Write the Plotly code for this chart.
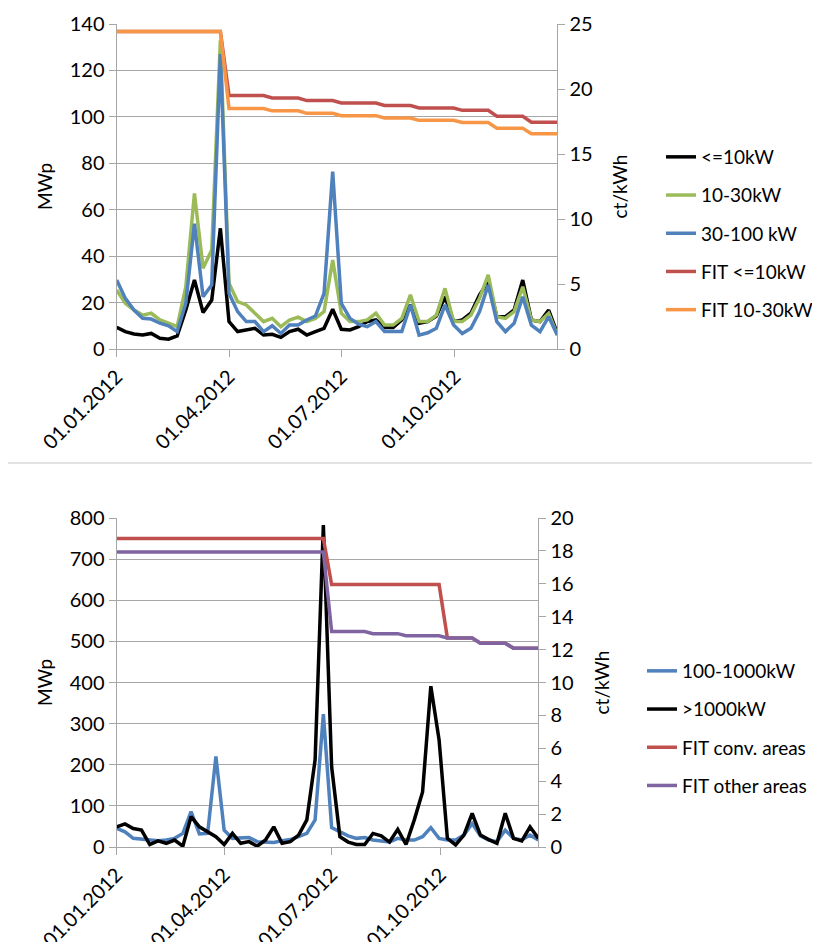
import pandas as pd
import plotly.graph_objects as go

# weekly dates (first day of each week in 2012)
weeks = pd.date_range("2012-01-01", periods=52, freq="7D")

# --- top chart: small plants (MWp per week) ---
mw_le10 = [9.3, 7.5, 6.5, 6.0, 6.7, 4.6, 4.2, 5.6, 16.8, 29.7,
           15.7, 21.1, 52.0, 11.8, 7.5, 8.2, 8.9, 6.0, 6.3, 5.0,
           7.5, 8.5, 6.0, 7.5, 8.9, 17.1, 8.5, 8.2, 9.6, 11.8,
           12.5, 9.3, 9.3, 12.5, 19.0, 11.1, 11.8, 14.2, 22.5, 11.8,
           12.5, 15.4, 23.3, 29.0, 13.9, 13.9, 16.8, 29.7, 12.5, 11.8,
           16.8, 6.7]
mw_10_30 = [25.4, 19.7, 16.8, 14.6, 15.4, 12.5, 11.1, 9.6, 26.8, 67.0,
            34.8, 42.7, 133.0, 28.3, 20.4, 19.0, 15.4, 11.8, 13.2, 9.6,
            12.5, 13.7, 11.8, 13.2, 16.1, 38.3, 15.4, 11.8, 11.8, 12.5,
            15.4, 10.3, 10.3, 13.2, 23.3, 11.8, 11.8, 14.6, 26.1, 11.8,
            11.8, 14.6, 21.8, 31.9, 13.9, 13.2, 16.1, 26.8, 12.5, 11.8,
            15.4, 6.0]
mw_30_100 = [29.7, 21.8, 16.8, 13.2, 12.9, 11.1, 10.0, 7.5, 19.7, 54.0,
             22.5, 27.6, 127.0, 24.0, 16.1, 11.8, 11.8, 7.5, 10.0, 6.7,
             10.3, 10.3, 12.5, 14.2, 24.0, 76.4, 19.7, 13.2, 10.7, 9.6,
             11.8, 7.5, 7.5, 7.5, 19.0, 6.0, 7.0, 8.9, 19.0, 10.3,
             6.7, 8.9, 16.1, 27.6, 11.8, 7.5, 11.1, 22.5, 10.3, 7.5,
             13.9, 6.0]

# feed-in tariffs (ct/kWh)
fit_le10 = [24.43] * 13 + [19.50] * 5 + [19.31] * 4 + [19.11] * 4 + [18.92] * 5 \
    + [18.73] * 4 + [18.54] * 5 + [18.36] * 4 + [17.90] * 4 + [17.45] * 4
fit_10_30 = [24.43] * 13 + [18.50] * 5 + [18.32] * 4 + [18.13] * 4 + [17.95] * 5 \
    + [17.77] * 4 + [17.59] * 5 + [17.42] * 4 + [16.98] * 4 + [16.56] * 4

# --- bottom chart: large plants ---
mw_100_1000 = [45, 37, 21, 19, 18, 15, 17, 21, 33, 86,
               32, 33, 220, 41, 21, 21, 23, 13, 13, 11,
               15, 18, 25, 33, 66, 323, 47, 37, 27, 21,
               23, 17, 15, 12, 21, 17, 17, 25, 47, 21,
               17, 17, 29, 57, 27, 17, 13, 41, 21, 17,
               29, 17]
mw_gt1000 = [49, 56, 45, 41, 6, 15, 9, 17, 2, 74,
             49, 37, 25, 6, 33, 9, 13, 2, 17, 49,
             9, 13, 29, 66, 212, 783, 195, 25, 12, 6,
             6, 33, 27, 12, 43, 6, 66, 134, 391, 260,
             21, 5, 29, 82, 29, 18, 9, 82, 21, 15,
             49, 21]
fit_conv = [18.76] * 26 + [15.95] * 14 + [12.71] * 4 + [12.39] * 4 + [12.08] * 4
fit_other = [17.94] * 26 + [13.10] * 5 + [12.97] * 4 + [12.84] * 5 + [12.71] * 4 \
    + [12.39] * 4 + [12.08] * 4

tick_dates = ["2012-01-01", "2012-04-01", "2012-07-01", "2012-10-01"]
tick_text = ["01.01.2012", "01.04.2012", "01.07.2012", "01.10.2012"]

BLACK = "#000000"
GREEN = "#9BBB59"
BLUE = "#4F81BD"
RED = "#C0504D"
ORANGE = "#F79646"
PURPLE = "#8064A2"
LW = 3.5

W, H = 820, 942
OFF = 8  # page body margin


def px_x(x):
    return (x - OFF) / W


def px_y(y):
    return 1 - (y - OFF) / H


fig = go.Figure()

top = [("<=10kW", mw_le10, BLACK, "y"),
       ("10-30kW", mw_10_30, GREEN, "y"),
       ("30-100 kW", mw_30_100, BLUE, "y"),
       ("FIT <=10kW", fit_le10, RED, "y2"),
       ("FIT 10-30kW", fit_10_30, ORANGE, "y2")]
for name, vals, col, ya in top:
    fig.add_trace(go.Scatter(x=weeks, y=vals, name=name, mode="lines",
                             line=dict(color=col, width=LW),
                             xaxis="x", yaxis=ya, legend="legend",
                             legendgroup=name))

bottom = [("100-1000kW", mw_100_1000, BLUE, "y3"),
          (">1000kW", mw_gt1000, BLACK, "y3"),
          ("FIT conv. areas", fit_conv, RED, "y4"),
          ("FIT other areas", fit_other, PURPLE, "y4")]
for name, vals, col, ya in bottom:
    fig.add_trace(go.Scatter(x=weeks, y=vals, name=name, mode="lines",
                             line=dict(color=col, width=LW),
                             xaxis="x2", yaxis=ya, legend="legend2",
                             legendgroup=name))

FONT = "Lato, 'Open Sans', sans-serif"
tickfont = dict(family=FONT, size=20, color="#000000")
grid = "#a6a6a6"
axline = "#a6a6a6"

xcommon = dict(type="date", tickvals=tick_dates, ticktext=tick_text,
               tickangle=-45, tickfont=tickfont, showgrid=False,
               showline=True, linecolor=axline, linewidth=1.3,
               ticks="outside", ticklen=7, tickcolor=axline,
               automargin=False, range=[weeks[0], weeks[-1]])
ycommon_left = dict(tickfont=tickfont, showgrid=True, gridcolor=grid,
                    gridwidth=1.3, showline=True, linecolor=axline,
                    linewidth=1.3, ticks="outside", ticklen=7,
                    tickcolor=axline, zeroline=False, automargin=False,
                    title=dict(text="MWp", font=dict(family=FONT, size=19),
                               standoff=12))
ycommon_right = dict(tickfont=tickfont, showgrid=False, showline=True,
                     linecolor=axline, linewidth=1.3, ticks="outside",
                     ticklen=7, tickcolor=axline, zeroline=False,
                     side="right", automargin=False,
                     title=dict(text="ct/kWh", font=dict(family=FONT, size=19),
                                standoff=22))

legend_common = dict(xanchor="left", yanchor="top",
                     font=dict(family=FONT, size=19), tracegroupgap=10.5,
                     traceorder="grouped", bgcolor="rgba(0,0,0,0)")

fig.update_layout(
    width=W, height=H,
    margin=dict(l=0, r=0, t=0, b=0, autoexpand=False),
    paper_bgcolor="white", plot_bgcolor="white",
    font=dict(family=FONT, size=19, color="#000000"),
    xaxis=dict(xcommon, domain=[px_x(116.7), px_x(557.3)], anchor="y"),
    yaxis=dict(ycommon_left, domain=[px_y(349), px_y(24)],
               range=[0, 140], dtick=20, anchor="x"),
    yaxis2=dict(ycommon_right, overlaying="y", range=[0, 25], dtick=5,
                anchor="x"),
    xaxis2=dict(xcommon, domain=[px_x(116.7), px_x(538.3)], anchor="y3"),
    yaxis3=dict(ycommon_left, domain=[px_y(847), px_y(518)],
                range=[0, 800], dtick=100, anchor="x2"),
    yaxis4=dict(ycommon_right, overlaying="y3", range=[0, 20], dtick=2,
                anchor="x2"),
    legend=dict(legend_common, x=px_x(661), y=px_y(138)),
    legend2=dict(legend_common, x=px_x(642), y=px_y(652)),
    showlegend=True,
    shapes=[dict(type="line", xref="paper", yref="paper", x0=-0.02, x1=1.02,
                 y0=px_y(463), y1=px_y(463),
                 line=dict(color="#d9d9d9", width=1.5))],
)

fig.write_html("out.html")
